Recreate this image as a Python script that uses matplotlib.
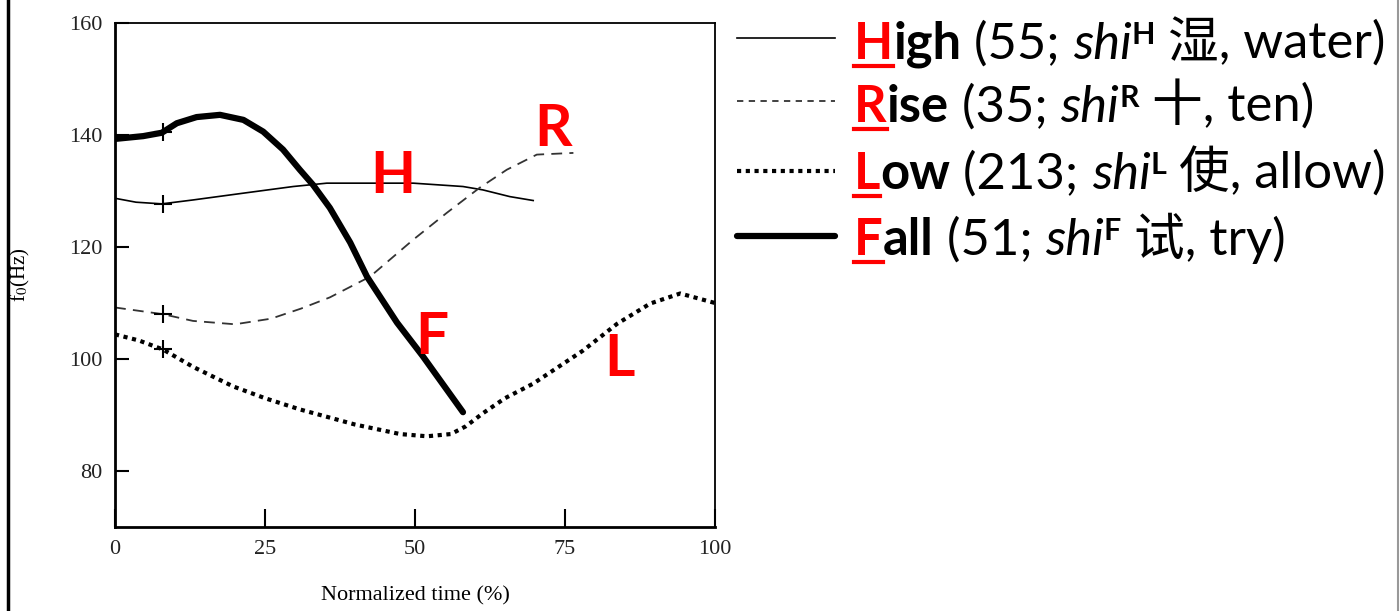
import numpy as np
import matplotlib.pyplot as plt
from matplotlib.lines import Line2D

plt.rcParams['mathtext.fontset'] = 'stix'

# f0 contours (time in %, f0 in Hz)
time_high = [0, 3.5, 7.8, 13, 21.3, 29.7, 35.3, 41, 49.7, 58, 61.3, 65.8, 69.7]
f0_high = [128.7, 128.0, 127.7, 128.4, 129.6, 130.8, 131.4, 131.4, 131.4, 130.8, 130.2, 129.0, 128.3]

time_rise = [0, 4, 8, 13, 20, 26, 31, 35.8, 42.5, 49.7, 55.3, 60.8, 65.3, 70.3, 76.4]
f0_rise = [109.2, 108.6, 108.0, 106.8, 106.2, 107.2, 109.0, 111.0, 114.7, 121.3, 126.1, 130.6, 133.8, 136.5, 136.8]

time_low = [0, 4, 8, 13, 19.7, 25, 30.8, 40, 47.5, 52, 56, 58.5, 61.3, 65, 69.7, 78, 83.7, 89.2, 94.2, 100]
f0_low = [104.4, 103.3, 101.7, 98.6, 95.1, 93.0, 91.0, 88.3, 86.6, 86.2, 86.6, 88.0, 90.3, 93.0, 95.6, 101.5, 106.3, 109.9, 111.7, 110.0]

time_fall = [0, 4.7, 7.8, 10.3, 13.6, 17.5, 21.4, 24.7, 28, 30.8, 33, 35.8, 39.2, 42, 47, 51.3, 58]
f0_fall = [139.3, 139.8, 140.4, 142.1, 143.2, 143.6, 142.7, 140.6, 137.4, 133.8, 131.1, 127.0, 120.8, 114.7, 106.5, 100.5, 90.5]

cross_time = 8  # the little "+" marks on each contour

# legend rows: (initial, rest of word, count, superscript, hanzi, gloss)
legend_rows = [
    ('H', 'igh', '55', 'H', '湿', 'water'),
    ('R', 'ise', '35', 'R', '十', 'ten'),
    ('L', 'ow', '213', 'L', '使', 'allow'),
    ('F', 'all', '51', 'F', '试', 'try'),
]

styles = [
    dict(color='black', lw=1.2, ls='-'),
    dict(color='#333333', lw=1.3, ls=(0, (6, 4))),
    dict(color='black', lw=3.0, ls=(0, (1, 1.1)), dash_capstyle='butt'),
    dict(color='black', lw=4.5, ls='-', solid_capstyle='round'),
]
handle_styles = [dict(s) for s in styles]
handle_styles[1]['ls'] = (0, (3.5, 3))

W, H = 1400, 611
fig = plt.figure(figsize=(W / 100, H / 100), dpi=100)
ax = fig.add_axes([115 / W, 1 - 527 / H, 600 / W, 504 / H])

series = [(time_high, f0_high), (time_rise, f0_rise), (time_low, f0_low), (time_fall, f0_fall)]
for (t, f), st in zip(series, styles):
    ax.plot(t, f, **st)
    ax.plot([cross_time], [np.interp(cross_time, t, f)], marker='+', color='black',
            markersize=13, markeredgewidth=1.5, ls='none')

ax.set_xlim(0, 100)
ax.set_ylim(70, 160)
ax.set_xticks([0, 25, 50, 75, 100])
ax.set_yticks([80, 100, 120, 140, 160])
ax.tick_params(axis='y', direction='in', length=10, width=1.5, pad=9, labelsize=16)
ax.tick_params(axis='x', direction='in', length=13, width=1.5, pad=9, labelsize=16)
for lab in ax.get_xticklabels() + ax.get_yticklabels():
    lab.set_family('Liberation Serif')
    lab.set_color('#222222')
for side in ['left', 'bottom']:
    ax.spines[side].set_linewidth(2)
for side in ['top', 'right']:
    ax.spines[side].set_linewidth(1.3)

ax.set_xlabel('Normalized time (%)', family='Liberation Serif', fontsize=16)
ax.xaxis.set_label_coords(0.5, -0.118)
ax.set_ylabel('f$_0$(Hz)', family='Liberation Serif', fontsize=15)
ax.yaxis.set_label_coords(-0.138, 0.5)

# red tone letters inside the plot
red = '#ff0000'
for letter, x, y in [('H', 46.3, 132.6), ('R', 73.0, 141.0), ('F', 52.8, 103.8), ('L', 84.0, 100.0)]:
    ax.text(x, y, letter, color=red, fontsize=42, fontweight='bold', family='Lato',
            ha='center', va='center')

# frame of the slide
fig.add_artist(Line2D([8 / W, 8 / W], [0, 1], color='black', lw=2.5))
fig.add_artist(Line2D([1398 / W, 1398 / W], [0, 1], color='#999999', lw=1.5))

# legend drawn by hand so each row can mix styles
fig.canvas.draw()
renderer = fig.canvas.get_renderer()
fam = ['Lato', 'Noto Sans CJK SC']
size = 36.5


def piece_width(s, **kw):
    t1 = fig.text(0, 0, '|' + s + '|', **kw)
    t2 = fig.text(0, 0, '||', **kw)
    w = t1.get_window_extent(renderer).width - t2.get_window_extent(renderer).width
    t1.remove()
    t2.remove()
    return w


row_base = [59, 122, 189, 255]
handle_y = [38, 101, 171, 236]
for i, (ini, rest, n, sup, hz, gloss) in enumerate(legend_rows):
    fig.add_artist(Line2D([737 / W, 835 / W], [1 - handle_y[i] / H] * 2, **handle_styles[i]))
    base = 1 - row_base[i] / H
    pieces = [
        (ini, dict(fontweight='bold', color=red), 0),
        (rest, dict(fontweight='bold', color='black'), 0),
        (' (' + n + '; ', dict(color='black'), 0),
        ('shi', dict(style='italic', color='black'), 0),
        (sup, dict(fontweight='bold', color='black', fontsize=size * 0.6), 15),
        (' ' + hz + ', ' + gloss + ')', dict(color='black'), 0),
    ]
    x = 854
    for k, (s, kw, dy) in enumerate(pieces):
        kw = dict(kw)
        kw.setdefault('fontsize', size)
        kw['family'] = fam
        fig.text(x / W, base + dy / H, s, ha='left', va='baseline', **kw)
        w = piece_width(s, **kw)
        if k == 0:
            fig.add_artist(Line2D([x / W, (x + w) / W], [base - 7 / H] * 2, color=red, lw=3))
        x += w

fig.savefig('out.png', dpi=100)
